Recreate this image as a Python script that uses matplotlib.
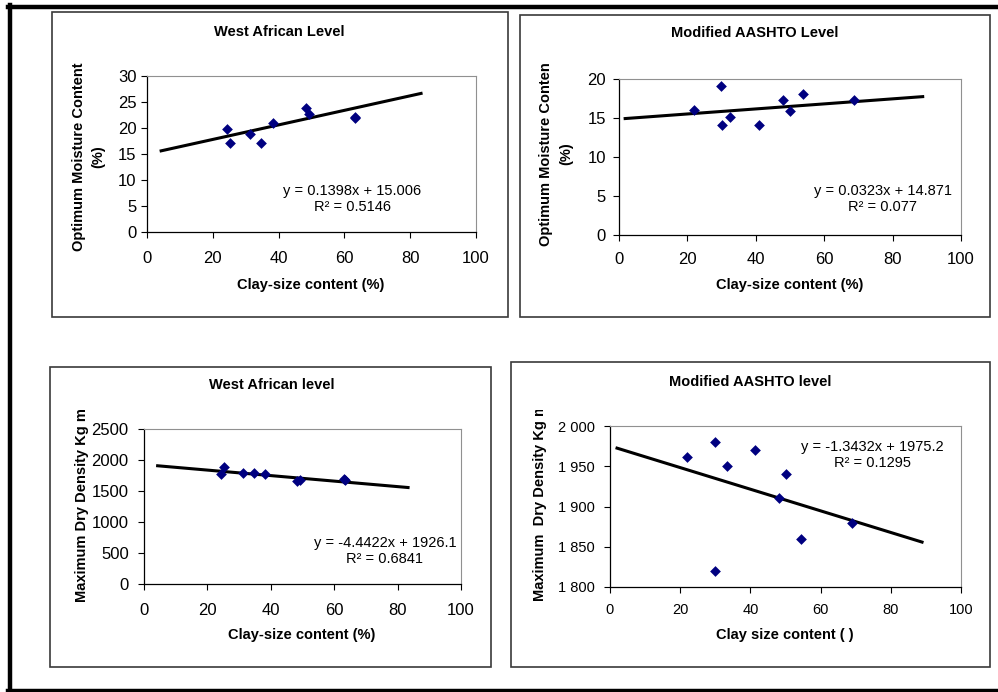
import matplotlib
matplotlib.use("Agg")
import matplotlib.pyplot as plt
from matplotlib.patches import Rectangle
from matplotlib.lines import Line2D
from matplotlib.ticker import FuncFormatter
from matplotlib.transforms import Bbox, TransformedBbox
import numpy as np

plt.rcParams['font.family'] = ['Liberation Sans', 'DejaVu Sans']

W, H = 998, 692

# data
clay_wa = [24.3, 25.3, 31.2, 34.6, 38.3, 48.4, 49.1, 63.1, 63.3]
omc_wa = [19.8, 17.1, 18.9, 17.1, 20.9, 23.8, 22.7, 22.1, 21.9]
mdd_wa = [1770, 1880, 1790, 1790, 1775, 1660, 1670, 1695, 1680]

clay_ma = [21.8, 29.8, 30.0, 32.5, 40.8, 48.0, 50.0, 53.8, 68.8]
omc_ma = [16.0, 19.1, 14.1, 15.1, 14.1, 17.3, 15.9, 18.1, 17.3]
clay_ma_mdd = [22.0, 30.0, 30.0, 33.4, 41.4, 48.1, 50.1, 54.3, 68.9]
mdd_ma = [1961, 1980, 1820, 1950, 1970, 1910, 1940, 1860, 1880]

# trendline coefficients (slope, intercept, r2)
fit_omc_wa = (0.1398, 15.006, 0.5146)
fit_omc_ma = (0.0323, 14.871, 0.077)
fit_mdd_wa = (-4.4422, 1926.1, 0.6841)
fit_mdd_ma = (-1.3432, 1975.2, 0.1295)

fig = plt.figure(figsize=(W / 100, H / 100), dpi=100)


def fx(x):
    return x / W


def fy(y):
    return 1 - y / H


def px_axes(x0, y0, x1, y1):
    return fig.add_axes([fx(x0), fy(y1), (x1 - x0) / W, (y1 - y0) / H])


def ftext(x, y, s, **kw):
    return fig.text(fx(x), fy(y), s, **kw)


# outer frame (no right edge)
for xs, ys in [([8, W], [7, 7]), ([10, 10], [5, 692]), ([8, W], [690.5, 690.5])]:
    fig.add_artist(Line2D([fx(v) for v in xs], [fy(v) for v in ys],
                          color='black', lw=3.2, transform=fig.transFigure))

# panel boxes
for x0, y0, x1, y1 in [(52, 12, 508, 317), (520, 15, 990, 317),
                       (50, 367, 491, 667), (511, 362, 990, 667)]:
    fig.add_artist(Rectangle((fx(x0), fy(y1)), (x1 - x0) / W, (y1 - y0) / H,
                             fill=False, ec='#3a3a3a', lw=1.2,
                             transform=fig.transFigure))


def panel(ax, x, y, fit, ylim, ystep, tsize, xpad, ypad, fmt=None):
    ax.scatter(x, y, marker='D', s=30, color='#000080', zorder=3, linewidths=0)
    lo, hi = min(x) - 20, max(x) + 20
    xx = np.array([lo, hi])
    ax.plot(xx, fit[0] * xx + fit[1], color='black', lw=2.2, zorder=2)
    ax.set_xlim(0, 100)
    ax.set_ylim(*ylim)
    ax.set_xticks(np.arange(0, 101, 20))
    ax.set_yticks(np.arange(ylim[0], ylim[1] + ystep / 2, ystep))
    if fmt:
        ax.yaxis.set_major_formatter(FuncFormatter(fmt))
    ax.tick_params(axis='x', direction='out', length=4, width=0.8,
                   labelsize=tsize, pad=xpad)
    ax.tick_params(axis='y', direction='out', length=4, width=0.8,
                   labelsize=tsize, pad=ypad)
    ax.spines['left'].set_linewidth(0.9)
    ax.spines['bottom'].set_linewidth(0.9)
    for s in ['top', 'right']:
        ax.spines[s].set_color('#909090')
        ax.spines[s].set_linewidth(0.8)
    ax.patch.set_alpha(0)


ax1 = px_axes(147, 76, 476, 232)
panel(ax1, clay_wa, omc_wa, fit_omc_wa, (0, 30), 5, 12, 10, 3.5)
ax2 = px_axes(619, 79, 961, 235)
panel(ax2, clay_ma, omc_ma, fit_omc_ma, (0, 20), 5, 12, 8, 5.5)
ax3 = px_axes(144, 429, 461, 584)
panel(ax3, clay_wa, mdd_wa, fit_mdd_wa, (0, 2500), 500, 12, 9.5, 7)
ax4 = px_axes(610, 426, 961, 587)
panel(ax4, clay_ma_mdd, mdd_ma, fit_mdd_ma, (1800, 2000), 50, 10.5, 7.5, 7)
ax4.yaxis.set_major_formatter(FuncFormatter(lambda v, p: '{:,.0f}'.format(v).replace(',', ' ')))

bold = dict(fontweight='bold', fontsize=10.5, ha='center', va='center')

# titles
ftext(279, 32, 'West African Level', **bold)
ftext(755, 33, 'Modified AASHTO Level', **bold)
ftext(272, 385, 'West African level', **bold)
ftext(750, 382, 'Modified AASHTO level', **bold)

# x labels
ftext(311, 285, 'Clay-size content (%)', **bold)
ftext(790, 285, 'Clay-size content (%)', **bold)
ftext(302, 635, 'Clay-size content (%)', **bold)
ftext(785, 635, 'Clay size content ( )', **bold)

# y labels
ftext(89, 157, 'Optimum Moisture Content\n(%)', rotation=90,
      multialignment='center', linespacing=1.5, **bold)
ftext(556, 154, 'Optimum Moisture Conten\n(%)', rotation=90,
      multialignment='center', linespacing=1.5, **bold)
ftext(82, 505, 'Maximum Dry Density Kg m', rotation=90, **bold)
lab4 = fig.text(fx(540), fy(601), 'Maximum  Dry Density Kg m', rotation=90,
                fontweight='bold', fontsize=10.5, ha='center', va='bottom')
lab4.set_clip_box(TransformedBbox(Bbox.from_extents(0, 0, 1, fy(410)),
                                  fig.transFigure))
lab4.set_clip_on(True)

# equations
eq = dict(fontsize=10.5, ha='center', va='center', multialignment='center',
          linespacing=1.2)


def eqtext(x, y, fit):
    s = 'y = {}x + {}\nR² = {}'.format(fit[0], fit[1], fit[2])
    ftext(x, y, s, **eq)


eqtext(352, 199, fit_omc_wa)
eqtext(883, 199, fit_omc_ma)
eqtext(385, 551, fit_mdd_wa)
eqtext(872, 455, fit_mdd_ma)

fig.savefig('out.png', dpi=100)
